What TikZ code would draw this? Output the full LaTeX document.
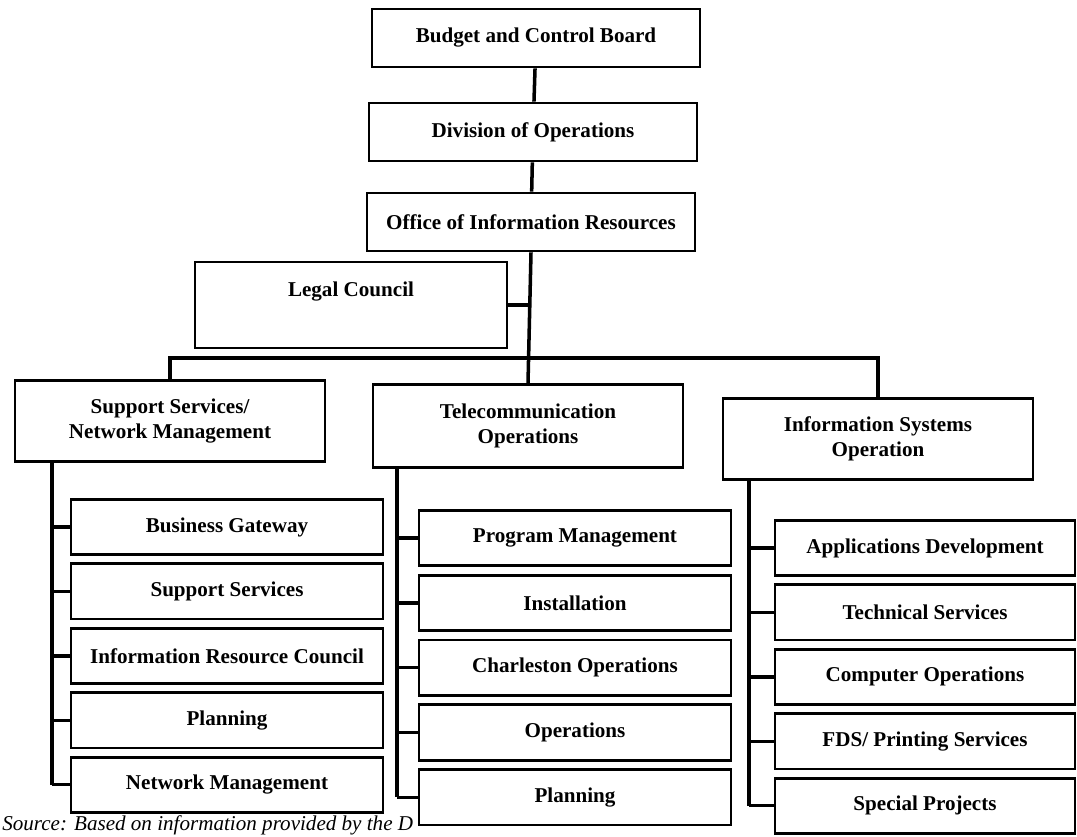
\documentclass[tikz,border=0pt]{standalone}
\usepackage{fontspec}
\setmainfont{Liberation Serif}
\usepackage{tikz}
\usetikzlibrary{positioning,arrows.meta}

\begin{document}
\begin{tikzpicture}[
		x=0.025cm,y=-0.025cm,
		office/.style={draw,line width=2pt,align=center,
			font=\bfseries\fontsize{15}{18}\selectfont},
		topbox/.style={office,minimum width=8.2cm,minimum height=1.45cm},
		headbox/.style={office,minimum width=7.75cm,minimum height=2.02cm},
		unitbox/.style={office,minimum width=7.8cm,minimum height=1.38cm},
		link/.style={line width=2.5pt}
		]
		
		\useasboundingbox (0,0) rectangle (1077,836);
		
		% top of the chart
		\node[topbox] (BCB) at (536,38) {Budget and Control Board};
		\node[topbox] (DO) at (533,132) {Division of Operations};
		\node[topbox] (OIR) at (531,222) {Office of Information Resources};
		\node[
		office,
		minimum width=7.8cm,
		minimum height=2.15cm,
		text depth=0.8cm
		] (LC) at (351,305) {Legal Council};
		
		% the three branches
		\node[headbox] (SSNM) at (170,421) {Support Services/\\Network Management};
		\node[headbox,minimum height=2.08cm] (TO) at (528,426) {Telecommunication\\Operations};
		\node[headbox] (ISO) at (878,439) {Information Systems\\Operation};
		
		% units under each branch
		\node[unitbox] (BG) at (227,527) {Business Gateway};
		\node[unitbox,below=0.16cm of BG] (SS) {Support Services};
		\node[unitbox,below=0.16cm of SS] (IRC) {Information Resource Council};
		\node[unitbox,below=0.16cm of IRC] (PL) {Planning};
		\node[unitbox,below=0.16cm of PL] (NM) {Network Management};
		
		\node[unitbox] (PM) at (575,538) {Program Management};
		\node[unitbox,below=0.17cm of PM] (IN) {Installation};
		\node[unitbox,below=0.17cm of IN] (CO) {Charleston Operations};
		\node[unitbox,below=0.17cm of CO] (OP) {Operations};
		\node[unitbox,below=0.17cm of OP] (TP) {Planning};
		
		\node[unitbox,minimum width=7.5cm] (AD) at (925,548) {Applications Development};
		\node[unitbox,minimum width=7.5cm,below=0.16cm of AD] (TS) {Technical Services};
		\node[unitbox,minimum width=7.5cm,below=0.16cm of TS] (CPO) {Computer Operations};
		\node[unitbox,minimum width=7.5cm,below=0.16cm of CPO] (FDS) {FDS/ Printing Services};
		\node[unitbox,minimum width=7.5cm,below=0.16cm of FDS] (SP) {Special Projects};
		
		\coordinate (lspine) at (52,0);
		\coordinate (mspine) at (397,0);
		\coordinate (rspine) at (749,0);
		\coordinate (bus) at (530,358);
		
		% connectors
		\draw[link] (BCB) -- (DO);
		\draw[link] (DO) -- (OIR);
		\draw[link] (OIR.south) -- (TO.north);
		\draw[link] (LC.east) -- (LC.east -| OIR.south);
		\draw[link] (SSNM.north) |- (bus) -| (ISO.north);
		
		\draw[link] (SSNM.south -| lspine) -- (NM.west -| lspine);
		\foreach \u in {BG,SS,IRC,PL,NM}
		\draw[link] (\u.west -| lspine) -- (\u.west);
		
		\draw[link] (TO.south -| mspine) -- (TP.west -| mspine);
		\foreach \u in {PM,IN,CO,OP,TP}
		\draw[link] (\u.west -| mspine) -- (\u.west);
		
		\draw[link] (ISO.south -| rspine) -- (SP.west -| rspine);
		\foreach \u in {AD,TS,CPO,FDS,SP}
		\draw[link] (\u.west -| rspine) -- (\u.west);
		
		\node[
		anchor=base west,
		inner sep=0pt,
		font=\itshape\fontsize{15}{17}\selectfont
		] (src) at (2,830) {Source: Based on information provided by the D};
		
	\end{tikzpicture}
\end{document}
